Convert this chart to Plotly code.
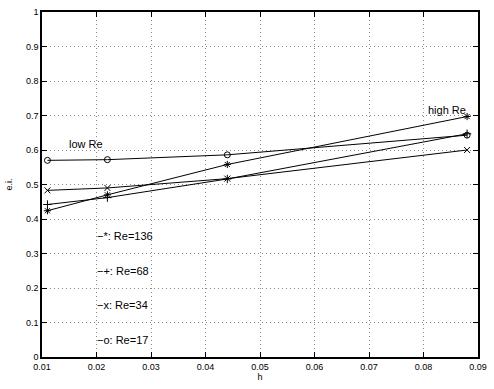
import plotly.graph_objects as go

h = [0.011, 0.022, 0.044, 0.088]
re136 = [0.424, 0.470, 0.558, 0.697]
re68 = [0.442, 0.462, 0.516, 0.647]
re34 = [0.483, 0.490, 0.517, 0.600]
re17 = [0.570, 0.572, 0.586, 0.643]

series = [
    ("Re=136", re136, "asterisk-open"),
    ("Re=68", re68, "cross-thin-open"),
    ("Re=34", re34, "x-thin-open"),
    ("Re=17", re17, "circle-open"),
]

legend_labels = ["\u2212*: Re=136", "\u2212+: Re=68", "\u2212x: Re=34", "\u2212o: Re=17"]
legend_y = [0.35, 0.25, 0.15, 0.05]
legend_x = 0.0198

xticks = [0.01, 0.02, 0.03, 0.04, 0.05, 0.06, 0.07, 0.08, 0.09]
yticks = [0, 0.1, 0.2, 0.3, 0.4, 0.5, 0.6, 0.7, 0.8, 0.9, 1]
ytick_text = ["0", "0.1", "0.2", "0.3", "0.4", "0.5", "0.6", "0.7", "0.8", "0.9", "1"]

FONT = "Liberation Sans, Arial"

fig = go.Figure()
for name, ys, sym in series:
    fig.add_trace(go.Scatter(
        x=h, y=ys, mode="lines+markers", name=name,
        line=dict(color="black", width=1),
        marker=dict(symbol=sym, size=6, color="black", line=dict(color="black", width=1)),
        showlegend=False,
    ))

for lab, yv in zip(legend_labels, legend_y):
    fig.add_annotation(x=legend_x, y=yv, text=lab, showarrow=False,
                       xanchor="left", yanchor="middle",
                       font=dict(family=FONT, size=11, color="black"))

fig.add_annotation(x=0.0145, y=0.618, text="low Re", showarrow=False,
                   xanchor="left", yanchor="middle",
                   font=dict(family=FONT, size=11, color="black"))
fig.add_annotation(x=0.0882, y=0.716, text="high Re", showarrow=False,
                   xanchor="right", yanchor="middle",
                   font=dict(family=FONT, size=11, color="black"))

axis_common = dict(
    showline=True, linecolor="black", linewidth=1.5, mirror="ticks",
    ticks="inside", ticklen=5, tickcolor="black",
    showgrid=True, gridcolor="#888888", griddash="1px,3px", gridwidth=1,
    zeroline=False,
    tickfont=dict(family=FONT, size=9, color="black"),
)

fig.update_xaxes(range=[0.01, 0.09], tickvals=xticks,
                 ticktext=[f"{v:.2f}" for v in xticks],
                 title=dict(text="h", standoff=2,
                            font=dict(family=FONT, size=9, color="black")),
                 **axis_common)
fig.update_yaxes(range=[0, 1], tickvals=yticks, ticktext=ytick_text,
                 title=dict(text="e.i.", standoff=12,
                            font=dict(family=FONT, size=9, color="black")),
                 **axis_common)

fig.update_layout(
    width=494, height=389,
    margin=dict(l=42, r=8, t=7, b=32),
    plot_bgcolor="white", paper_bgcolor="white",
)

fig.write_html("out.html", config={"displayModeBar": False},
               post_script="document.body.style.margin='0';document.body.style.overflow='hidden';")
